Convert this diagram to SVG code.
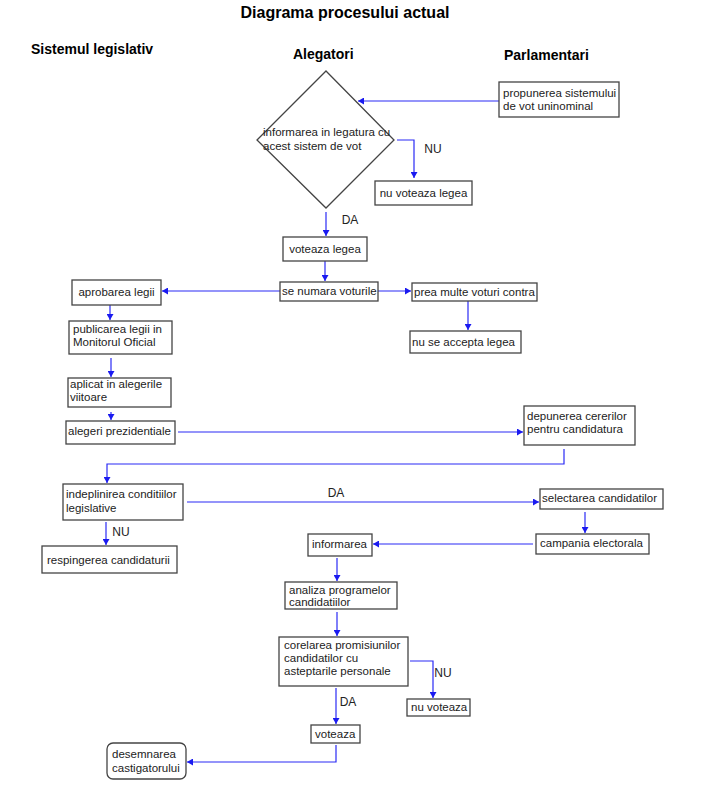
<svg xmlns="http://www.w3.org/2000/svg" width="728" height="785" viewBox="0 0 728 785">
<style>
.box{fill:#fff;stroke:#444;stroke-width:1.3}
.t{font-family:"Liberation Sans",Arial,sans-serif;font-size:11.5px;fill:#222}
.h{font-family:"Liberation Sans",Arial,sans-serif;font-size:14px;font-weight:bold;fill:#000}
.c{fill:none;stroke:#2a2af5;stroke-width:1.2}
.l{font-family:"Liberation Sans",Arial,sans-serif;font-size:12px;fill:#222;text-anchor:middle}
</style>
<defs>
<marker id="a" markerUnits="userSpaceOnUse" markerWidth="7" markerHeight="7" refX="6" refY="3.5" orient="auto">
<path d="M0,0 L6,3.5 L0,7 z" fill="#1a1af0"/>
</marker>
</defs>
<rect width="728" height="785" fill="#fff"/>
<g id="headers">
<text x="345" y="18" class="h" style="font-size:16px" text-anchor="middle">Diagrama procesului actual</text>
<text x="31" y="54" class="h">Sistemul legislativ</text>
<text x="293" y="59" class="h">Alegatori</text>
<text x="504" y="60" class="h">Parlamentari</text>
</g>
<g id="connectors">
<path class="c" d="M500,101 H358" marker-end="url(#a)"/>
<path class="c" d="M397,140 H414 V178" marker-end="url(#a)"/>
<path class="c" d="M326,212 V236" marker-end="url(#a)"/>
<path class="c" d="M325,261 V281" marker-end="url(#a)"/>
<path class="c" d="M280,291 H162" marker-end="url(#a)"/>
<path class="c" d="M378,291 H411" marker-end="url(#a)"/>
<path class="c" d="M468,301 V330" marker-end="url(#a)"/>
<path class="c" d="M110,305 V320" marker-end="url(#a)"/>
<path class="c" d="M111,358 V377" marker-end="url(#a)"/>
<path class="c" d="M111,412 V420" marker-end="url(#a)"/>
<path class="c" d="M178,432 H523" marker-end="url(#a)"/>
<path class="c" d="M564,449 V464 H107 V483" marker-end="url(#a)"/>
<path class="c" d="M187,502 H539" marker-end="url(#a)"/>
<path class="c" d="M585,512 V533" marker-end="url(#a)"/>
<path class="c" d="M533,544 H373" marker-end="url(#a)"/>
<path class="c" d="M106,522 V545" marker-end="url(#a)"/>
<path class="c" d="M337,558 V581" marker-end="url(#a)"/>
<path class="c" d="M337,612 V636" marker-end="url(#a)"/>
<path class="c" d="M410,661 H433 V698" marker-end="url(#a)"/>
<path class="c" d="M336,688 V724" marker-end="url(#a)"/>
<path class="c" d="M336,745 V762 H187" marker-end="url(#a)"/>
<text x="433" y="153" class="l">NU</text>
<text x="350" y="224" class="l">DA</text>
<text x="336" y="497" class="l">DA</text>
<text x="121" y="536" class="l">NU</text>
<text x="443" y="677" class="l">NU</text>
<text x="348" y="706" class="l">DA</text>
</g>
<g id="n1"><rect class="box" x="499" y="82" width="120" height="35"/><text class="t" x="503" y="97">propunerea sistemului</text><text class="t" x="503" y="110">de vot uninominal</text></g>
<g id="n2"><polygon class="box" points="326,71 394,140 326,208 257,140"/><text class="t" x="263" y="136">informarea in legatura cu</text><text class="t" x="263" y="150">acest sistem de vot</text></g>
<g id="n3"><rect class="box" x="375" y="181" width="97" height="24"/><text class="t" x="423.5" y="197" text-anchor="middle">nu voteaza legea</text></g>
<g id="n4"><rect class="box" x="283" y="237" width="84" height="24"/><text class="t" x="325" y="253" text-anchor="middle">voteaza legea</text></g>
<g id="n5"><rect class="box" x="280" y="282" width="98" height="19"/><text class="t" x="282" y="295">se numara voturile</text></g>
<g id="n6"><rect class="box" x="412" y="283" width="125" height="18"/><text class="t" x="414" y="296">prea multe voturi contra</text></g>
<g id="n7"><rect class="box" x="410" y="331" width="111" height="22"/><text class="t" x="412" y="346">nu se accepta legea</text></g>
<g id="n8"><rect class="box" x="72" y="280" width="89" height="25"/><text class="t" x="116.5" y="296" text-anchor="middle">aprobarea legii</text></g>
<g id="n9"><rect class="box" x="69" y="321" width="103" height="33"/><text class="t" x="73" y="333">publicarea legii in</text><text class="t" x="73" y="346">Monitorul Oficial</text></g>
<g id="n10"><rect class="box" x="68" y="378" width="103" height="29"/><text class="t" x="70" y="388">aplicat in alegerile</text><text class="t" x="70" y="401">viitoare</text></g>
<g id="n11"><rect class="box" x="66" y="421" width="109" height="23"/><text class="t" x="68" y="435">alegeri prezidentiale</text></g>
<g id="n12"><rect class="box" x="524" y="406" width="111" height="39"/><text class="t" x="527" y="420">depunerea cererilor</text><text class="t" x="527" y="433">pentru candidatura</text></g>
<g id="n13"><rect class="box" x="63" y="484" width="120" height="36"/><text class="t" x="66" y="498">indeplinirea conditiilor</text><text class="t" x="66" y="512">legislative</text></g>
<g id="n14"><rect class="box" x="540" y="489" width="123" height="20"/><text class="t" x="542" y="502">selectarea candidatilor</text></g>
<g id="n15"><rect class="box" x="536" y="534" width="113" height="20"/><text class="t" x="540" y="547">campania electorala</text></g>
<g id="n16"><rect class="box" x="308" y="534" width="64" height="22"/><text class="t" x="312" y="548">informarea</text></g>
<g id="n17"><rect class="box" x="42" y="546" width="135" height="27"/><text class="t" x="47" y="564">respingerea candidaturii</text></g>
<g id="n18"><rect class="box" x="285" y="582" width="112" height="27"/><text class="t" x="289" y="594">analiza programelor</text><text class="t" x="289" y="606">candidatiilor</text></g>
<g id="n19"><rect class="box" x="279" y="637" width="129" height="49"/><text class="t" x="284" y="649">corelarea promisiunilor</text><text class="t" x="284" y="662">candidatilor cu</text><text class="t" x="284" y="675">asteptarile personale</text></g>
<g id="n20"><rect class="box" x="407" y="699" width="63" height="17"/><text class="t" x="411" y="711">nu voteaza</text></g>
<g id="n21"><rect class="box" x="311" y="725" width="49" height="18"/><text class="t" x="315" y="738">voteaza</text></g>
<g id="n22"><rect class="box" x="107" y="743" width="79" height="36" rx="6"/><text class="t" x="112" y="758">desemnarea</text><text class="t" x="112" y="772">castigatorului</text></g>
</svg>
